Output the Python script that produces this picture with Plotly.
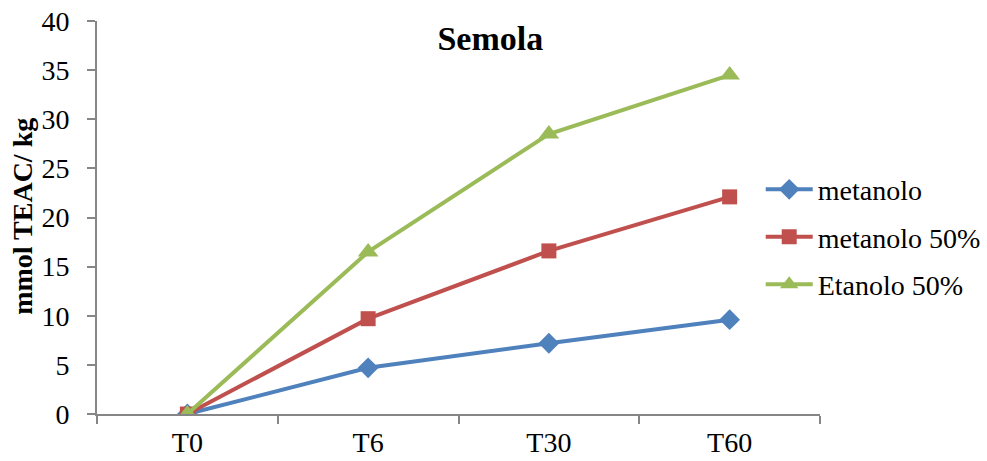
import plotly.graph_objects as go

# Sampling times and antioxidant capacity (mmol TEAC / kg)
categories = ["T0", "T6", "T30", "T60"]
metanolo = [0, 4.7, 7.2, 9.6]
metanolo_50 = [0, 9.7, 16.6, 22.1]
etanolo_50 = [0, 16.5, 28.5, 34.5]
y_ticks = [0, 5, 10, 15, 20, 25, 30, 35, 40]

series = [
    ("metanolo", metanolo, "#4F81BD", "diamond", 16),
    ("metanolo 50%", metanolo_50, "#C0504D", "square", 15),
    ("Etanolo 50%", etanolo_50, "#9BBB59", "triangle-up", 18),
]

FONT = "Liberation Serif, Times New Roman, serif"

fig = go.Figure()
for name, vals, color, symbol, size in series:
    fig.add_trace(go.Scatter(
        x=categories, y=vals, name=name, mode="lines+markers",
        legendgroup=name,
        line=dict(color=color, width=4),
        marker=dict(symbol=symbol, size=size, color=color),
    ))

fig.update_layout(
    width=987, height=461,
    margin=dict(l=97, r=167, t=21, b=47, autoexpand=False),
    paper_bgcolor="white", plot_bgcolor="white",
    font=dict(family=FONT, size=28, color="black"),
    title=dict(text="<b>Semola</b>", x=0.544, xanchor="center", xref="paper",
               y=0.917, yanchor="middle", yref="container",
               font=dict(size=34, family=FONT)),
    showlegend=True,
    legend=dict(x=0.918, y=0.45, xref="paper", xanchor="left", yanchor="middle",
                font=dict(size=28, family=FONT), tracegroupgap=8, itemwidth=47,
                bgcolor="rgba(0,0,0,0)"),
    annotations=[dict(
        text="<b>mmol TEAC/ kg</b>", textangle=-90,
        xref="paper", yref="paper", x=-0.103, y=0.503,
        xanchor="center", yanchor="middle", showarrow=False,
        font=dict(size=28, family=FONT, color="black"),
    )],
)

fig.update_xaxes(
    type="category", range=[-0.5, 3.5], automargin=False,
    showline=True, linecolor="#868686", linewidth=2,
    ticks="outside", tickson="boundaries", ticklen=8, tickcolor="#868686", tickwidth=1.5,
    showgrid=False, zeroline=False, ticklabelstandoff=2,
    tickfont=dict(size=28, family=FONT),
)
fig.update_yaxes(
    range=[0, 40], tickvals=y_ticks, automargin=False,
    showline=True, linecolor="#868686", linewidth=2,
    ticks="outside", ticklen=8, tickcolor="#868686", tickwidth=1.5,
    showgrid=False, zeroline=False, ticklabelstandoff=12,
    tickfont=dict(size=28, family=FONT),
)

fig.write_html("out.html")
